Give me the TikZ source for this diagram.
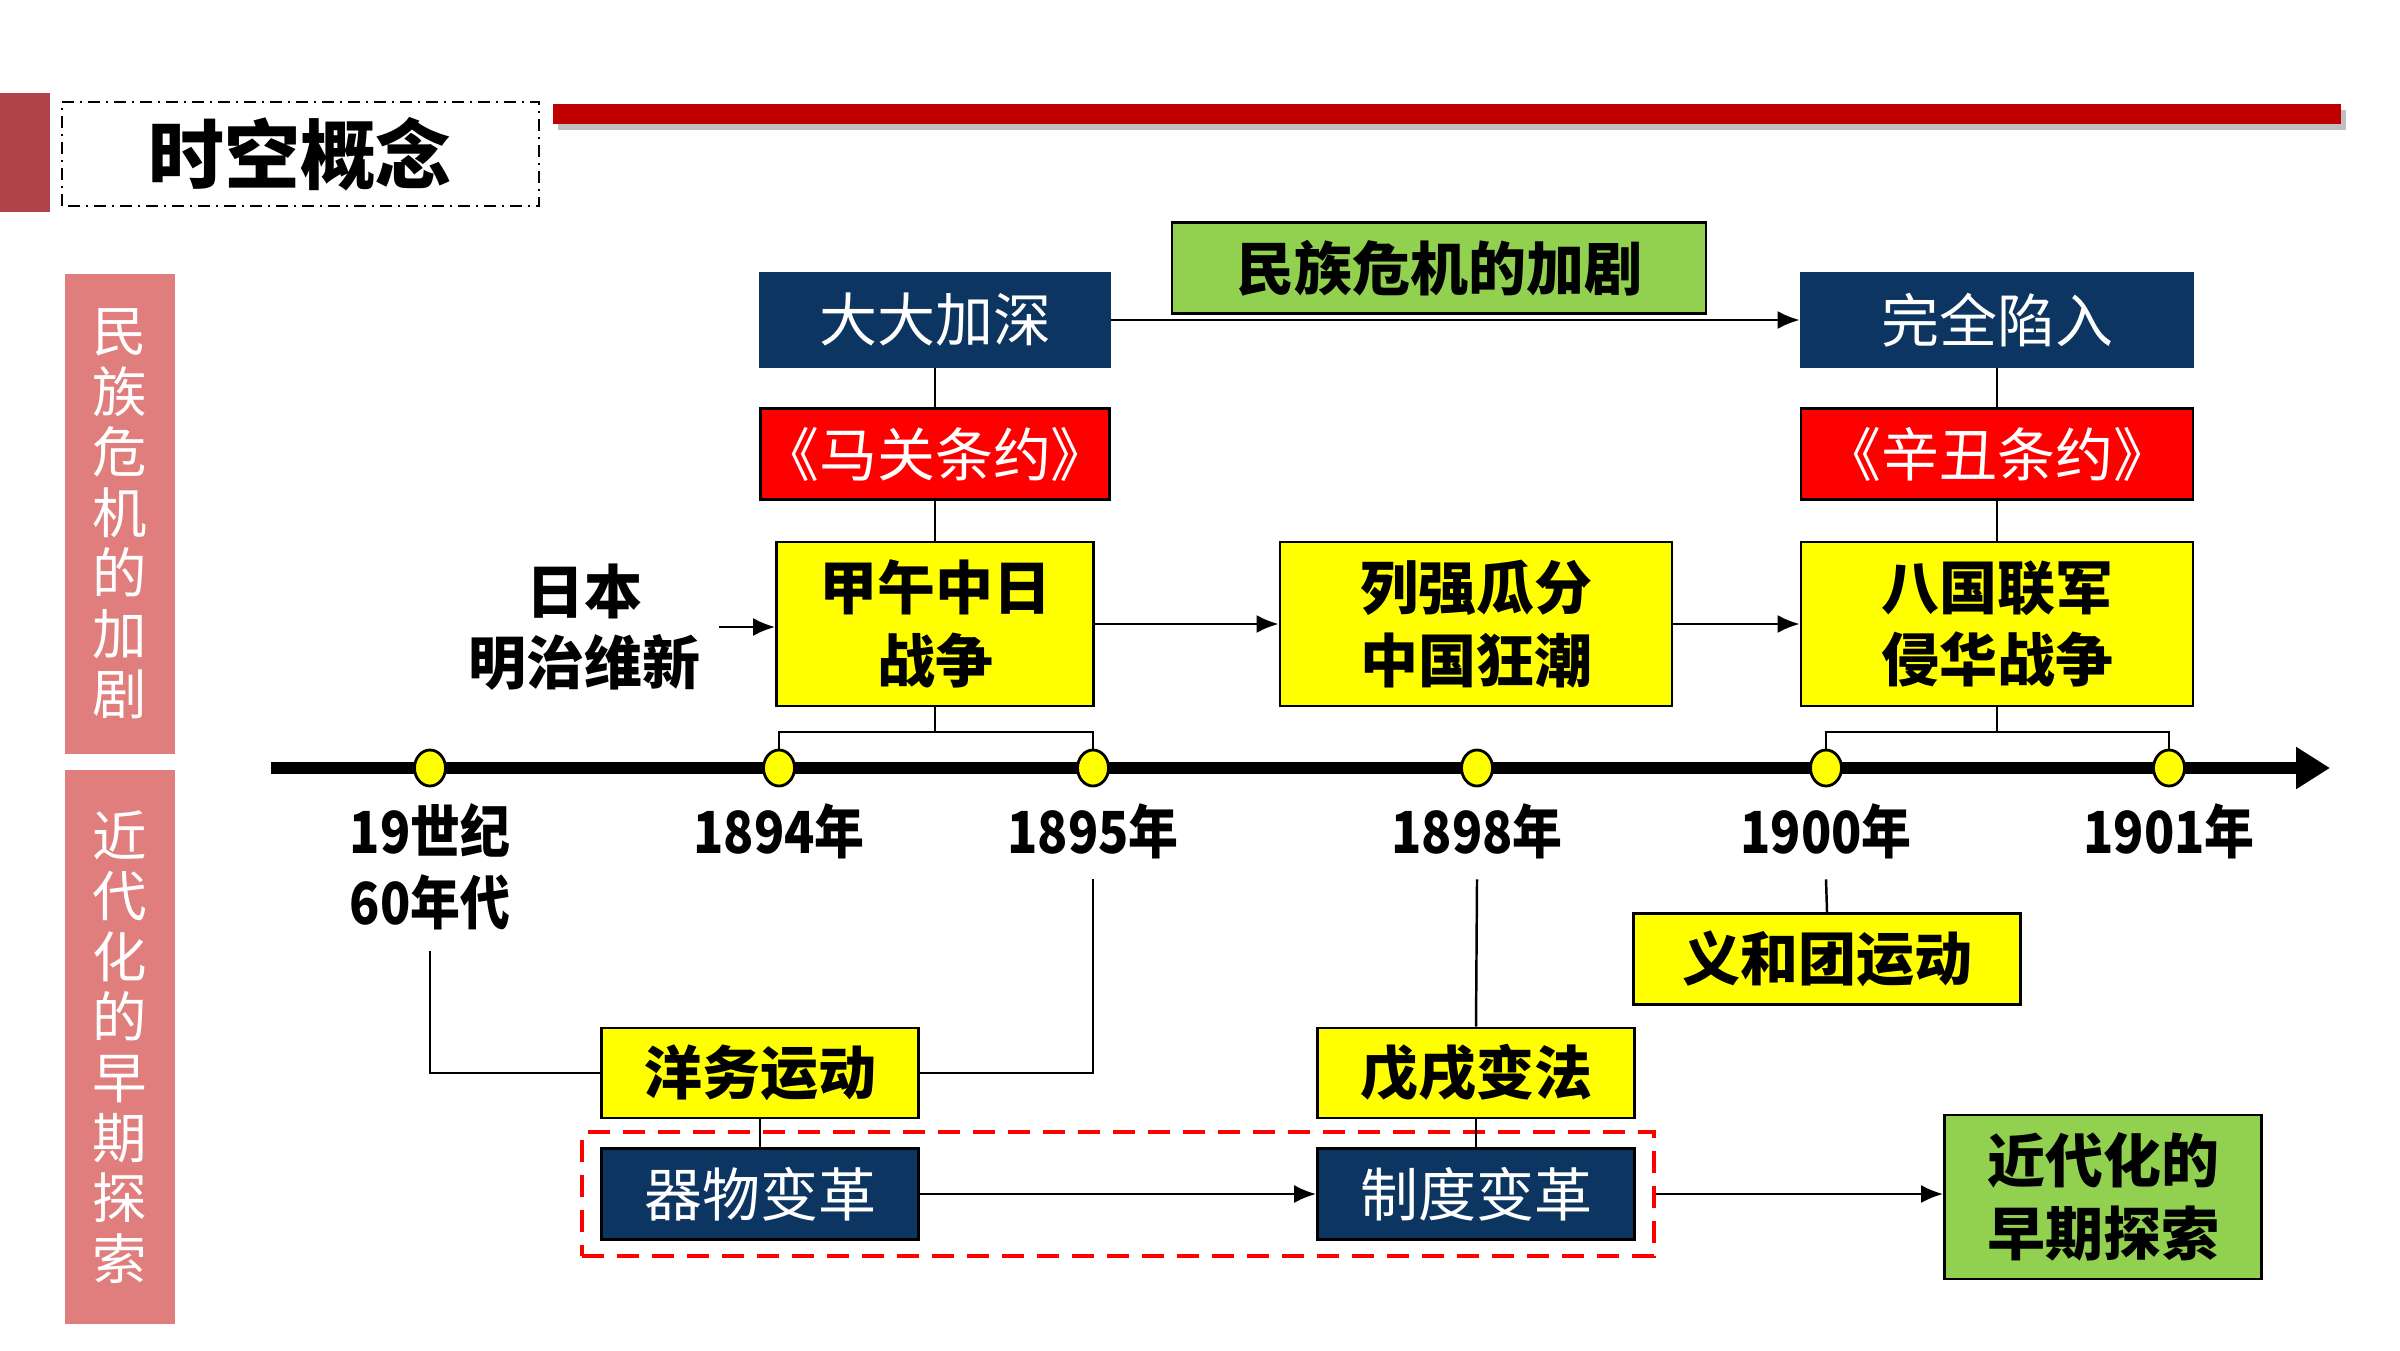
\documentclass[tikz,border=0pt]{standalone}
\usepackage{fontspec}
\newfontfamily\cjk{Noto Sans CJK SC}
\newfontfamily\cjknarrow{Noto Sans CJK SC}[FakeStretch=0.86]
\usepackage{tikz}
\usetikzlibrary{shapes.geometric,arrows.meta,fit,positioning}
\definecolor{navy}{RGB}{12,53,98}
\definecolor{boxred}{RGB}{255,0,0}
\definecolor{boxyellow}{RGB}{255,255,0}
\definecolor{boxgreen}{RGB}{146,208,80}
\definecolor{barpink}{RGB}{224,126,126}
\definecolor{bardark}{RGB}{176,68,74}
\definecolor{linered}{RGB}{192,0,0}

\begin{document}
\begin{tikzpicture}[
	box/.style={draw=black, line width=0.8pt, inner sep=0pt, align=center,
		font=\cjk\fontsize{16.5}{20.7}\selectfont},
	navybox/.style={box, fill=navy, text=white},
	redbox/.style={box, fill=boxred, text=white},
	yelbox/.style={box, fill=boxyellow, font=\cjk\bfseries\fontsize{16.5}{20.7}\selectfont},
	grnbox/.style={box, fill=boxgreen, font=\cjk\bfseries\fontsize{16.5}{20.7}\selectfont},
	pinkbar/.style={fill=barpink, text=white, minimum width=1.10cm, inner sep=0pt, align=center,
		font=\cjk\fontsize{15.5}{17.2}\selectfont},
	year/.style={inner sep=0pt, align=center, font=\cjknarrow\bfseries\fontsize{16.5}{20.3}\selectfont},
	dot/.style={ellipse, draw=black, line width=0.8pt, fill=boxyellow, inner sep=0pt,
		minimum width=0.31cm, minimum height=0.36cm},
	conn/.style={line width=0.7pt},
	arr/.style={conn, -{Latex[length=2.2mm,width=1.8mm]}}
]
	\useasboundingbox (0,0) rectangle (24,13.5);

	% header
	\fill[bardark] (0,11.38) rectangle (0.50,12.57);
	\draw[line width=0.6pt, dash pattern=on 1.2mm off 0.6mm on 0.2mm off 0.6mm] (0.62,11.44) rectangle (5.39,12.48);
	\node[font=\cjk\bfseries\fontsize{21.6}{24}\selectfont] (title) at (3.00,11.96) {时空概念};
	\fill[black, opacity=0.25] (5.58,12.20) rectangle (23.46,12.40);
	\fill[linered] (5.53,12.26) rectangle (23.41,12.46);

	% side bars
	\node[pinkbar, minimum height=4.80cm] (crisis) at (1.20,8.36) {民\\族\\危\\机\\的\\加\\剧};
	\node[pinkbar, minimum height=5.54cm] (explore) at (1.20,3.03) {近\\代\\化\\的\\早\\期\\探\\索};

	% timeline
	\coordinate (tl0) at (2.71,5.82);
	\coordinate (tl1) at (23.30,5.82);
	\draw[line width=3.5pt, -{Triangle[length=3.4mm,width=4mm]}] (tl0) -- (tl1);
	\foreach \x/\n in {4.30/d1,7.79/d2,10.93/d3,14.77/d4,18.26/d5,21.69/d6}
		\node[dot] (\n) at (\x,5.82) {};

	% years
	\node[year] (y60) at (4.30,4.83) {19世纪\\60年代};
	\foreach \x/\n/\t in {7.79/y1894/1894年,10.93/y1895/1895年,14.77/y1898/1898年,18.26/y1900/1900年,21.69/y1901/1901年}
		\node[year] (\n) at (\x,5.19) {\t};

	% upper row
	\node[navybox, draw=navy, minimum width=3.50cm, minimum height=0.93cm] (dada) at (9.35,10.30) {大大加深};
	\node[grnbox, minimum width=5.34cm, minimum height=0.91cm] (crisisbox) at (14.39,10.82) {民族危机的加剧};
	\node[navybox, draw=navy, minimum width=3.92cm, minimum height=0.93cm] (wanquan) at (19.97,10.30) {完全陷入};
	\node[redbox, minimum width=3.49cm, minimum height=0.91cm] (maguan) at (9.35,8.96) {《马关条约》};
	\node[redbox, minimum width=3.92cm, minimum height=0.91cm] (xinchou) at (19.97,8.96) {《辛丑条约》};
	\node[yelbox, minimum width=3.17cm, minimum height=1.64cm] (jiawu) at (9.35,7.26) {甲午中日\\战争};
	\node[yelbox, minimum width=3.92cm, minimum height=1.64cm] (liqiang) at (14.76,7.26) {列强瓜分\\中国狂潮};
	\node[yelbox, minimum width=3.92cm, minimum height=1.64cm] (baguo) at (19.97,7.26) {八国联军\\侵华战争};
	\node[inner sep=0pt, align=center, font=\cjk\bfseries\fontsize{16.5}{20.3}\selectfont] (riben) at (5.84,7.23) {日本\\明治维新};

	\draw[arr] (dada) -- (wanquan);
	\draw[conn] (dada) -- (maguan);
	\draw[conn] (maguan) -- (jiawu);
	\draw[conn] (wanquan) -- (xinchou);
	\draw[conn] (xinchou) -- (baguo);
	\draw[arr] ([xshift=1.8mm]riben.east) -- (riben.east -| jiawu.west);
	\draw[arr] (jiawu) -- (liqiang);
	\draw[arr] (liqiang) -- (baguo);

	% brackets to the timeline
	\coordinate (b1) at (9.35,6.18);
	\coordinate (b2) at (19.97,6.18);
	\draw[conn] (jiawu.south) -- (b1);
	\draw[conn] (d2.north) |- (b1) -| (d3.north);
	\draw[conn] (baguo.south) -- (b2);
	\draw[conn] (d5.north) |- (b2) -| (d6.north);

	% lower row
	\node[yelbox, minimum width=3.17cm, minimum height=0.90cm] (yangwu) at (7.60,2.77) {洋务运动};
	\node[yelbox, minimum width=3.17cm, minimum height=0.90cm] (wuxu) at (14.76,2.77) {戊戌变法};
	\node[yelbox, minimum width=3.87cm, minimum height=0.91cm] (yihetuan) at (18.27,3.91) {义和团运动};
	\node[navybox, minimum width=3.17cm, minimum height=0.91cm] (qiwu) at (7.60,1.56) {器物变革};
	\node[navybox, minimum width=3.17cm, minimum height=0.91cm] (zhidu) at (14.76,1.56) {制度变革};
	\node[draw=red, line width=1pt, dash pattern=on 2.2mm off 1.3mm, inner xsep=0.18cm, inner ysep=0.15cm,
		fit=(qiwu)(zhidu)] (reform) {};
	\node[grnbox, minimum width=3.17cm, minimum height=1.64cm] (jindai) at (21.03,1.53) {近代化的\\早期探索};

	\draw[conn] ([yshift=-2mm]y60.south) |- (yangwu.west);
	\draw[conn] ([yshift=-2mm]y1895.south) |- (yangwu.east);
	\draw[conn] ([yshift=-2mm]y1898.south) -- (wuxu.north);
	\draw[conn] ([yshift=-2mm]y1900.south) -- (yihetuan.north);
	\draw[conn] (yangwu) -- (qiwu);
	\draw[conn] (wuxu) -- (zhidu);
	\draw[arr] (qiwu) -- (zhidu);
	\draw[arr] (reform.east) -- (reform.east -| jindai.west);

\end{tikzpicture}
\end{document}
